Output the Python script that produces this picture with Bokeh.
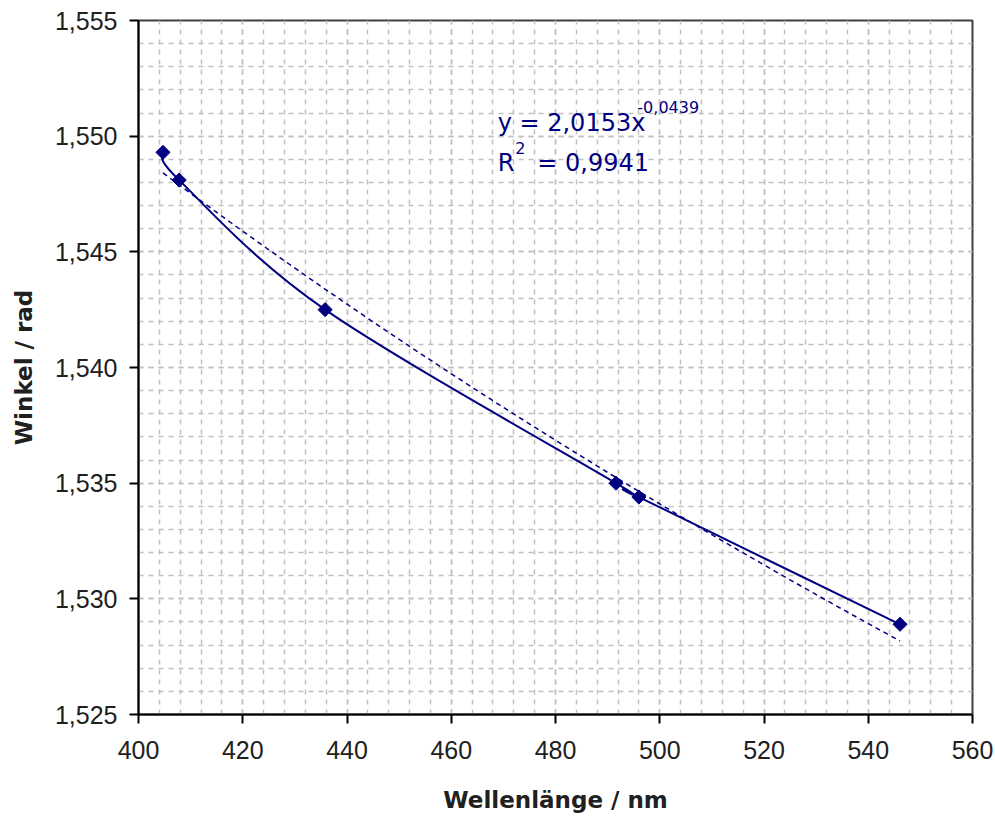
import numpy as np
from bokeh.plotting import figure
from bokeh.models import Range1d, SingleIntervalTicker, CustomJSTickFormatter, Label
from bokeh.embed import file_html
from bokeh.resources import INLINE

# ---- data ----
wavelength_nm = [404.7, 407.8, 435.8, 491.6, 496.0, 546.1]
angle_rad = [1.5493, 1.5481, 1.5425, 1.5350, 1.5344, 1.5289]

# power trendline as printed on the chart: y = A * x^B
trend_A = 2.0153
trend_B = -0.0439
eq_main = "y = 2,0153x"
eq_sup = "-0,0439"
r2_main = "R"
r2_sup = "2"
r2_rest = "= 0,9941"

x_label = "Wellenlänge / nm"
y_label = "Winkel / rad"

NAVY = "#000080"
GRID = "#c0c0c0"

p = figure(width=995, height=816, output_backend="svg", toolbar_location=None,
           x_range=Range1d(400, 560), y_range=Range1d(1.525, 1.555),
           min_border_left=138, min_border_right=23, min_border_top=20, min_border_bottom=102)
p.background_fill_color = "white"
p.border_fill_color = "white"
p.outline_line_color = "#404040"
p.outline_line_width = 2

p.xaxis.ticker = SingleIntervalTicker(interval=20, num_minor_ticks=5)
p.yaxis.ticker = SingleIntervalTicker(interval=0.005, num_minor_ticks=5)
p.xgrid.ticker = p.xaxis.ticker
p.ygrid.ticker = p.yaxis.ticker
p.yaxis.formatter = CustomJSTickFormatter(code="return tick.toFixed(3).replace('.', ',');")
p.xaxis.formatter = CustomJSTickFormatter(code="return tick.toFixed(0);")

for ax in (p.xaxis, p.yaxis):
    ax.axis_line_color = "black"
    ax.axis_line_width = 2
    ax.major_tick_line_color = "black"
    ax.major_tick_line_width = 2
    ax.major_tick_out = 9
    ax.major_tick_in = 0
    ax.minor_tick_line_color = None
    ax.major_label_text_font = "Liberation Sans"
    ax.major_label_text_font_size = "25px"
    ax.major_label_text_color = "#202020"
    ax.axis_label_text_font = "DejaVu Sans"
    ax.axis_label_text_font_style = "bold"
    ax.axis_label_text_font_size = "23px"
    ax.axis_label_text_color = "#202020"

p.xaxis.axis_label = x_label
p.yaxis.axis_label = y_label
p.xaxis.major_label_standoff = 17
p.yaxis.major_label_standoff = 12
p.xaxis.axis_label_standoff = 25
p.yaxis.axis_label_standoff = 15

for g in (p.xgrid, p.ygrid):
    g.grid_line_color = GRID
    g.grid_line_width = 1.5
    g.grid_line_dash = "5 5"
    g.minor_grid_line_color = GRID
    g.minor_grid_line_width = 1.5
    g.minor_grid_line_dash = "5 5"

# trendline (dashed), from the printed equation, over the data range
xs = np.array(wavelength_nm)
ys = np.array(angle_rad)
tx = np.linspace(xs.min(), xs.max(), 60)
ty = trend_A * tx ** trend_B
p.line(tx, ty, line_color=NAVY, line_width=1.5, line_dash="5 4")

# smoothed line through the points (Catmull-Rom style bezier segments)
P = np.column_stack([xs, ys])
Pext = np.vstack([P[0], P, P[-1]])
x0, y0, x1, y1, cx0, cy0, cx1, cy1 = [], [], [], [], [], [], [], []
for i in range(len(P) - 1):
    a, b = P[i], P[i + 1]
    prev, nxt = Pext[i], Pext[i + 3]
    c1 = a + (b - prev) / 6.0
    c2 = b - (nxt - a) / 6.0
    x0.append(a[0]); y0.append(a[1]); x1.append(b[0]); y1.append(b[1])
    cx0.append(c1[0]); cy0.append(c1[1]); cx1.append(c2[0]); cy1.append(c2[1])
p.bezier(x0=x0, y0=y0, x1=x1, y1=y1, cx0=cx0, cy0=cy0, cx1=cx1, cy1=cy1,
         line_color=NAVY, line_width=2)

p.scatter(xs, ys, marker="square", angle=np.pi / 4, size=10,
          fill_color=NAVY, line_color=NAVY)

def lab(x, y, t, size):
    p.add_layout(Label(x=x, y=y, text=t, text_font="DejaVu Sans", text_font_size=size,
                       text_color=NAVY, text_baseline="alphabetic", text_align="left"))

lab(468.9, 1.55059, eq_main, "24px")
lab(495.7, 1.55124, eq_sup, "16px")
lab(468.9, 1.54886, r2_main, "24px")
lab(472.3, 1.54951, r2_sup, "16px")
lab(476.5, 1.54886, r2_rest, "24px")

open("out.html", "w").write(file_html(p, INLINE))
